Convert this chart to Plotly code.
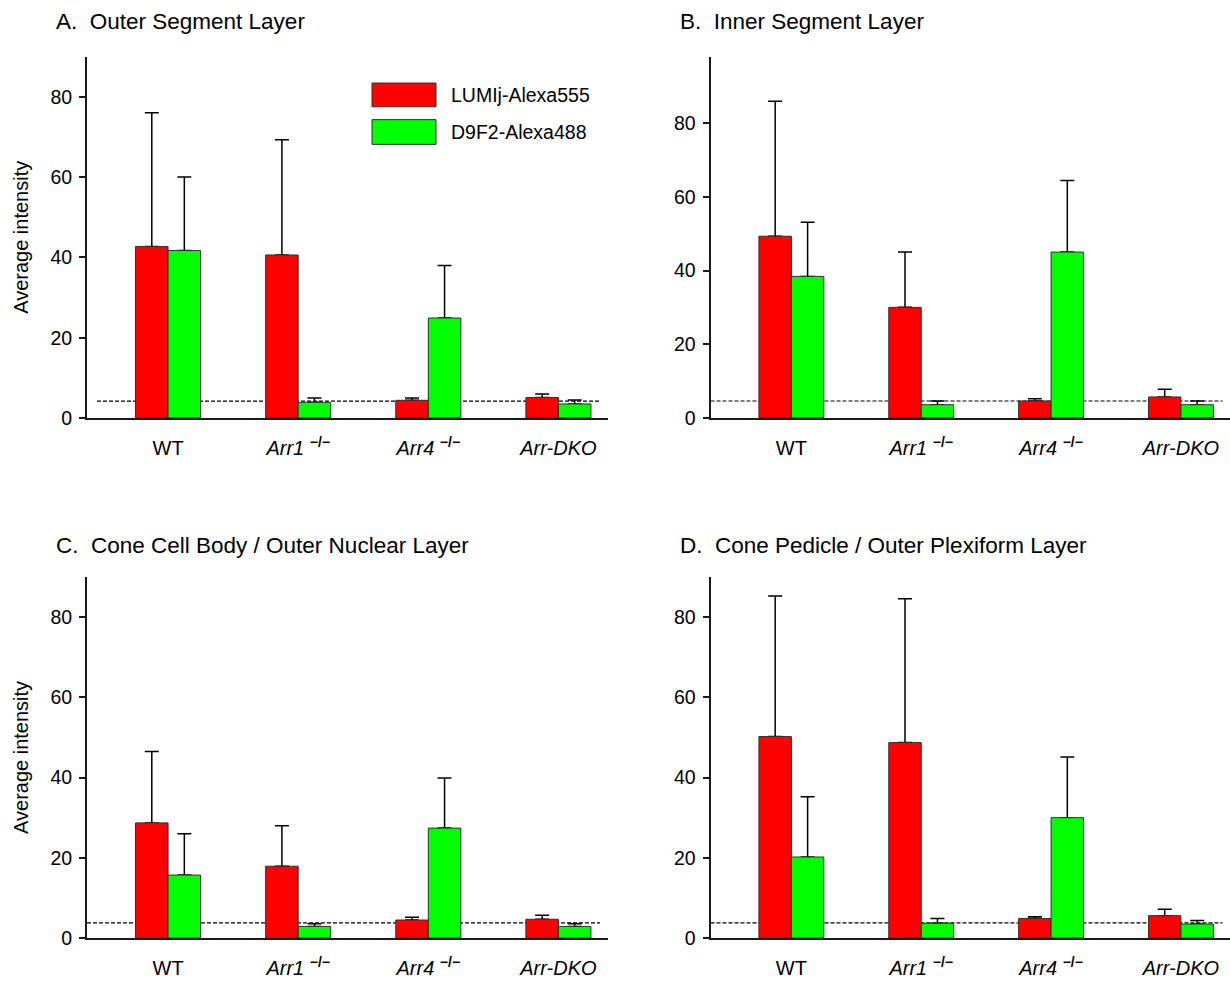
import plotly.graph_objects as go

# ---- data -------------------------------------------------------------
categories = ["WT", "Arr1-/-", "Arr4-/-", "Arr-DKO"]
tick_labels = [
    "WT",
    "<i>Arr1</i> <sup><b>−/−</b></sup>",
    "<i>Arr4</i> <sup><b>−/−</b></sup>",
    "<i>Arr-DKO</i>",
]
series_names = ["LUMIj-Alexa555", "D9F2-Alexa488"]

panel_titles = [
    "A.\u00a0\u00a0Outer Segment Layer",
    "B.\u00a0\u00a0Inner Segment Layer",
    "C.\u00a0\u00a0Cone Cell Body / Outer Nuclear Layer",
    "D.\u00a0\u00a0Cone Pedicle / Outer Plexiform Layer",
]

# mean intensity and upper error per layer (LUMIj = red, D9F2 = green)
lumi_outer_seg = [42.7, 40.6, 4.4, 5.1]
lumi_outer_seg_err = [33.3, 28.7, 0.6, 0.9]
d9f2_outer_seg = [41.7, 3.9, 24.9, 3.5]
d9f2_outer_seg_err = [18.3, 1.1, 13.1, 1.0]

lumi_inner_seg = [49.3, 30.0, 4.6, 5.7]
lumi_inner_seg_err = [36.6, 15.0, 0.6, 2.1]
d9f2_inner_seg = [38.4, 3.6, 45.0, 3.6]
d9f2_inner_seg_err = [14.7, 1.0, 19.4, 1.0]

lumi_cell_body = [28.7, 17.9, 4.5, 4.7]
lumi_cell_body_err = [17.8, 10.1, 0.7, 1.0]
d9f2_cell_body = [15.7, 2.9, 27.4, 2.9]
d9f2_cell_body_err = [10.3, 0.7, 12.5, 0.7]

lumi_pedicle = [50.2, 48.7, 4.9, 5.6]
lumi_pedicle_err = [35.0, 35.8, 0.4, 1.6]
d9f2_pedicle = [20.2, 3.7, 30.0, 3.5]
d9f2_pedicle_err = [15.0, 1.2, 15.1, 0.9]

# background (secondary-only) level drawn as a dashed reference line
background_level = [4.2, 4.6, 3.8, 3.8]
y_max = [90, 98, 90, 90]

# ---- styling ------------------------------------------------------------
W, H = 1230, 985
FONT = "Liberation Sans, Arial, Helvetica, sans-serif"
RED, GREEN, EDGE = "#ff0000", "#00ff00", "#303030"
AXIS_COLOR = "#1a1a1a"

# panel rectangles in pixels: left, right, top, bottom
panel_px = [
    (87.0, 607.6, 57.3, 422.7),
    (710.5, 1230.0, 57.3, 422.7),
    (87.0, 607.6, 583.3, 948.7),
    (710.5, 1230.0, 583.3, 948.7),
]
title_y_px = [22, 22, 552, 552]
x_range = [-0.623, 3.378]

means = [
    (lumi_outer_seg, d9f2_outer_seg),
    (lumi_inner_seg, d9f2_inner_seg),
    (lumi_cell_body, d9f2_cell_body),
    (lumi_pedicle, d9f2_pedicle),
]
errors = [
    (lumi_outer_seg_err, d9f2_outer_seg_err),
    (lumi_inner_seg_err, d9f2_inner_seg_err),
    (lumi_cell_body_err, d9f2_cell_body_err),
    (lumi_pedicle_err, d9f2_pedicle_err),
]

x_pos = list(range(len(categories)))

fig = go.Figure()
layout = dict(
    width=W,
    height=H,
    margin=dict(l=0, r=0, t=0, b=0),
    paper_bgcolor="white",
    plot_bgcolor="white",
    barmode="group",
    bargap=0.5,
    bargroupgap=0.0,
    showlegend=False,
    font=dict(family=FONT, color="black", size=19),
)
shapes = []
annotations = []

for i in range(4):
    left, right, top, bottom = panel_px[i]
    sfx = "" if i == 0 else str(i + 1)
    xa, ya = "x" + sfx, "y" + sfx

    # upward error bars: carried by transparent bars in the same slot,
    # drawn first so the filled bars cover the lower end of each whisker
    for s in range(2):
        fig.add_trace(
            go.Bar(
                x=x_pos,
                y=means[i][s],
                name=series_names[s] + " error",
                xaxis=xa,
                yaxis=ya,
                offsetgroup=str(s),
                marker=dict(color="rgba(0,0,0,0)", line=dict(width=0)),
                error_y=dict(
                    type="data",
                    symmetric=False,
                    array=errors[i][s],
                    arrayminus=[0] * len(categories),
                    color="black",
                    thickness=1.5,
                    width=7,
                ),
                hoverinfo="skip",
            )
        )
    for s, color in enumerate([RED, GREEN]):
        fig.add_trace(
            go.Bar(
                x=x_pos,
                y=means[i][s],
                name=series_names[s],
                xaxis=xa,
                yaxis=ya,
                offsetgroup=str(s),
                marker=dict(color=color, line=dict(color=EDGE, width=1)),
            )
        )

    layout["xaxis" + sfx] = dict(
        domain=[left / W, right / W],
        anchor=ya,
        range=x_range,
        tickmode="array",
        tickvals=x_pos,
        ticktext=tick_labels,
        ticks="",
        ticklabelstandoff=11,
        showgrid=False,
        zeroline=False,
        showline=True,
        linecolor=AXIS_COLOR,
        linewidth=2,
        tickfont=dict(size=20, family=FONT, color="black"),
        fixedrange=True,
    )
    layout["yaxis" + sfx] = dict(
        domain=[1 - bottom / H, 1 - top / H],
        anchor=xa,
        range=[0, y_max[i]],
        tickmode="array",
        tickvals=[0, 20, 40, 60, 80],
        ticks="outside",
        ticklen=6,
        tickwidth=1.5,
        tickcolor=AXIS_COLOR,
        ticklabelstandoff=3,
        showgrid=False,
        zeroline=False,
        showline=True,
        linecolor=AXIS_COLOR,
        linewidth=2,
        tickfont=dict(size=19.5, family=FONT, color="black"),
        fixedrange=True,
    )
    if i in (0, 2):
        layout["yaxis" + sfx]["title"] = dict(
            text="Average intensity",
            font=dict(size=20, family=FONT, color="black"),
            standoff=16,
        )

    # dashed background level, drawn beneath the bars
    x_start = -0.546 if i == 0 else x_range[0]
    shapes.append(
        dict(
            type="line",
            xref=xa,
            yref=ya,
            x0=x_start,
            x1=3.32,
            y0=background_level[i],
            y1=background_level[i],
            line=dict(color="black", width=1.2, dash="4px,2px"),
            layer="below",
        )
    )

    # panel heading
    annotations.append(
        dict(
            text=panel_titles[i],
            xref="paper",
            yref="paper",
            x=(left - 33) / W,
            y=1 - title_y_px[i] / H,
            xanchor="left",
            yanchor="middle",
            showarrow=False,
            font=dict(size=22.5, family=FONT, color="black"),
        )
    )

# legend (panel A): large swatches with labels
legend_rows = [(84, 108, RED), (121, 146, GREEN)]
for name, (y_top, y_bot, color) in zip(series_names, legend_rows):
    shapes.append(
        dict(
            type="rect",
            xref="paper",
            yref="paper",
            x0=372 / W,
            x1=436 / W,
            y0=1 - y_bot / H,
            y1=1 - y_top / H,
            fillcolor=color,
            line=dict(color=EDGE, width=1),
        )
    )
    annotations.append(
        dict(
            text=name,
            xref="paper",
            yref="paper",
            x=449 / W,
            y=1 - (y_top + y_bot) / 2 / H,
            xanchor="left",
            yanchor="middle",
            showarrow=False,
            font=dict(size=19.5, family=FONT, color="black"),
        )
    )

layout["shapes"] = shapes
layout["annotations"] = annotations
fig.update_layout(**layout)

fig.write_html("out.html")
